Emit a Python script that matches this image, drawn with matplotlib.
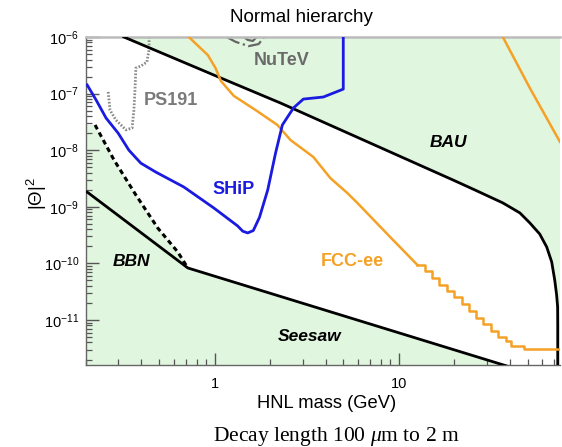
import math
import matplotlib
matplotlib.use('Agg')
import matplotlib.pyplot as plt
from matplotlib.ticker import FixedLocator, FuncFormatter, LogLocator, NullFormatter

plt.rcParams['font.family'] = ['Liberation Sans', 'DejaVu Sans']
plt.rcParams['mathtext.fontset'] = 'custom'
plt.rcParams['mathtext.rm'] = 'Liberation Sans'
plt.rcParams['mathtext.it'] = 'Liberation Serif:italic'
plt.rcParams['mathtext.bf'] = 'Liberation Sans:bold'

# ---------------- data (HNL mass in GeV, |Theta|^2) ----------------
XLIM = (0.2, 75)
YLIM = (1.6e-12, 1e-6)

bau_m = [0.321, 1.05, 2.28, 19.7, 25.9, 36.7, 45.4, 51.4, 58.2, 63.5, 67.6,
         70.2, 71.9, 72.8, 72.9, 72.9]
bau_u = [1e-6, 1.96e-7, 6.8e-8, 2.97e-9, 1.98e-9, 1.17e-9, 7.8e-10, 5.2e-10,
         3.3e-10, 1.95e-10, 1.06e-10, 5.1e-11, 2.77e-11, 1.7e-11, 8e-12, 1e-12]

seesaw_m = [0.203, 0.714, 39.5]
seesaw_u = [1.82e-9, 8.3e-11, 1.5e-12]

bbn_m = [0.224, 0.284, 0.373, 0.491, 0.631, 0.714]
bbn_u = [2.79e-8, 6.7e-9, 1.62e-9, 4.2e-10, 1.58e-10, 8.3e-11]

ship_m = [0.203, 0.227, 0.257, 0.299, 0.342, 0.397, 0.479, 0.679, 0.99, 1.33,
          1.42, 1.51, 1.62, 1.75, 1.94, 2.14, 2.33, 2.68, 3.03, 3.89, 4.99, 4.99]
ship_u = [1.42e-7, 7.7e-8, 3.7e-8, 2.0e-8, 1.0e-8, 5.9e-9, 4.1e-9, 2.24e-9,
          9.5e-10, 4.6e-10, 3.7e-10, 3.45e-10, 3.8e-10, 6.5e-10, 1.98e-9,
          8.9e-9, 2.79e-8, 5.6e-8, 8.0e-8, 8.7e-8, 1.2e-7, 1e-6]

fcc_low_m = [0.723, 0.917, 1.01, 1.08, 1.27, 1.67, 2.19, 2.58, 3.43, 4.25,
             5.25, 5.95, 8.97, 12.6]
fcc_low_u = [1e-6, 4.8e-7, 2.83e-7, 1.67e-7, 9.1e-8, 5.1e-8, 2.79e-8, 1.51e-8,
             7.6e-9, 3.2e-9, 1.75e-9, 1.17e-9, 2.92e-10, 9.4e-11]
fcc_step_m = [12.6, 13.8, 15.1, 16.6, 18.2, 20.0, 21.9, 24.0, 26.3, 28.8,
              31.6, 34.7, 38.0, 40.5, 48.0, 75.0]
fcc_step_u = [9.4e-11, 7.2e-11, 5.5e-11, 4.2e-11, 3.2e-11, 2.5e-11, 1.9e-11,
              1.45e-11, 1.1e-11, 8.5e-12, 6.5e-12, 5.0e-12, 4.2e-12, 3.5e-12,
              3.1e-12, 3.1e-12]
fcc_up_m = [36.7, 51.4, 75.0]
fcc_up_u = [1e-6, 1.26e-7, 1.4e-8]

ps191_m = [0.264, 0.270, 0.291, 0.330, 0.356, 0.364, 0.369, 0.373, 0.397,
           0.428, 0.440, 0.440]
ps191_u = [1.07e-7, 5.1e-8, 3.4e-8, 2.28e-8, 2.47e-8, 5.1e-8, 1.16e-7,
           2.83e-7, 3.07e-7, 3.6e-7, 5.9e-7, 1e-6]

nutev_out_m = [1.16, 1.30, 1.53, 1.73, 1.84, 1.84]
nutev_out_u = [1e-6, 8.2e-7, 6.9e-7, 7.5e-7, 9.6e-7, 1e-6]
nutev_in_m = [1.44, 1.51, 1.61, 1.67, 1.66]
nutev_in_u = [1e-6, 8.9e-7, 8.5e-7, 9.6e-7, 1e-6]

x_major = [1, 10]
x_major_labels = ['1', '10']

# ---------------- colours ----------------
GREEN = '#e1f6df'
BLUE = '#1a1ae0'
ORANGE = '#f4a126'

fig = plt.figure(figsize=(5.62, 4.47), dpi=100)
ax = fig.add_axes([86 / 562, 1 - 365 / 447, (560 - 86) / 562, (365 - 37) / 447])
ax.set_xscale('log')
ax.set_yscale('log')
ax.set_xlim(*XLIM)
ax.set_ylim(*YLIM)

# excluded (green) regions
ax.fill(bau_m + [XLIM[1], XLIM[1]], bau_u + [YLIM[0] * 0.5, YLIM[1]],
        color=GREEN, lw=0, zorder=0)
ax.fill([XLIM[0]] + bbn_m + seesaw_m[2:] + [XLIM[0]],
        [bbn_u[0]] + bbn_u + seesaw_u[2:] + [YLIM[0] * 0.5],
        color=GREEN, lw=0, zorder=0)

# curves
ax.plot(bau_m, bau_u, color='black', lw=2.0, zorder=3)
ax.plot(seesaw_m, seesaw_u, color='black', lw=2.0, zorder=3)
ax.plot(bbn_m, bbn_u, color='black', lw=2.2, ls=(0, (1.6, 1.2)), zorder=3)
ax.plot(ps191_m, ps191_u, color='#8a8a8a', lw=2.0, ls=(0, (0.6, 0.6)), zorder=2)
ax.plot(nutev_out_m, nutev_out_u, color='#666666', lw=1.6, ls='-.', zorder=2)
ax.plot(nutev_in_m, nutev_in_u, color='#666666', lw=1.6, ls='-.', zorder=2)
ax.plot(fcc_low_m, fcc_low_u, color=ORANGE, lw=1.8, zorder=3)
ax.plot(fcc_step_m, fcc_step_u, color=ORANGE, lw=1.8, drawstyle='steps-post', zorder=3)
ax.plot(fcc_up_m, fcc_up_u, color=ORANGE, lw=1.8, zorder=3)
ax.plot(ship_m, ship_u, color=BLUE, lw=2.0, zorder=4)

# labels inside plot
ax.text(2.31, 3.9e-7, 'NuTeV', color='#6a6a6a', fontsize=13, fontweight='bold',
        ha='center', va='center')
ax.text(0.578, 7.7e-8, 'PS191', color='#7a7a7a', fontsize=13, fontweight='bold',
        ha='center', va='center')
ax.text(1.27, 1.98e-9, 'SHiP', color=BLUE, fontsize=13, fontweight='bold',
        ha='center', va='center')
ax.text(5.59, 1.1e-10, 'FCC-ee', color=ORANGE, fontsize=13, fontweight='bold',
        ha='center', va='center')
ax.text(18.5, 1.34e-8, 'BAU', color='black', fontsize=12.5, fontweight='bold',
        fontstyle='italic', ha='center', va='center')
ax.text(0.351, 1.1e-10, 'BBN', color='black', fontsize=12.5, fontweight='bold',
        fontstyle='italic', ha='center', va='center')
ax.text(3.27, 5.0e-12, 'Seesaw', color='black', fontsize=12.5, fontweight='bold',
        fontstyle='italic', ha='center', va='center')

# axes styling
for s in ['left', 'bottom']:
    ax.spines[s].set_color('#666666')
    ax.spines[s].set_linewidth(1.0)
ax.spines['top'].set_color('#bbbbbb')
ax.spines['top'].set_linewidth(1.8)
ax.spines['right'].set_visible(False)

ax.xaxis.set_major_locator(FixedLocator(x_major))
ax.xaxis.set_major_formatter(FuncFormatter(
    lambda v, p: x_major_labels[x_major.index(v)] if v in x_major else ''))
ax.xaxis.set_minor_locator(LogLocator(base=10, subs=range(2, 10), numticks=20))
ax.xaxis.set_minor_formatter(NullFormatter())
ax.yaxis.set_major_locator(LogLocator(base=10, numticks=20))
ax.yaxis.set_major_formatter(FuncFormatter(
    lambda v, p: r'$\mathregular{10^{%d}}$' % round(math.log10(v))))
ax.yaxis.set_minor_locator(LogLocator(base=10, subs=range(2, 10), numticks=20))
ax.yaxis.set_minor_formatter(NullFormatter())

ax.tick_params(which='major', direction='in', length=9, width=1.0, color='#555555',
               labelsize=10.5, top=False, right=False)
ax.tick_params(which='minor', direction='in', length=4.5, width=0.9, color='#555555',
               top=False, right=False)
ax.tick_params(axis='x', which='major', pad=9)
ax.tick_params(axis='y', which='major', pad=5)

ax.set_xlabel('HNL mass (GeV)', fontsize=13.2)
ax.xaxis.set_label_coords((327 - 86) / 474, (365 - 403) / 328)
ax.xaxis.label.set_va('center')
ax.set_ylabel(r'$\mathregular{|\Theta|^{2}}$', fontsize=13.5)
ax.yaxis.set_label_coords((37 - 86) / 474, (365 - 193) / 328)
ax.yaxis.label.set_va('center')

fig.text(301 / 562, 1 - 17 / 447, 'Normal hierarchy', fontsize=13.5,
         ha='center', va='center')
fig.text(336 / 562, 1 - 436 / 447, r'Decay length 100 $\mu$m to 2 m',
         fontsize=15.5, family='Liberation Serif', ha='center', va='center')

fig.savefig('out.png', dpi=100)
